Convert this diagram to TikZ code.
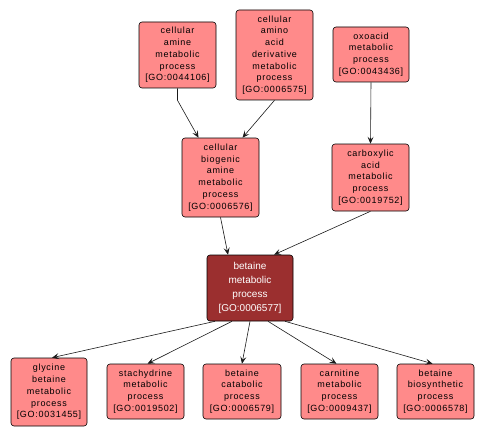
\documentclass[tikz,border=0pt]{standalone}
\usepackage{fontspec}
\usepackage{tikz}
\usetikzlibrary{arrows.meta, positioning, calc}
\newfontfamily\gofont[LetterSpace=8]{Liberation Sans}
\newfontfamily\focusfont{Liberation Sans}
\definecolor{termfill}{HTML}{FF8A8A}
\definecolor{focusfill}{HTML}{9B2F2F}
\definecolor{edge}{HTML}{1A1A1A}

\begin{document}
\begin{tikzpicture}[
  x=1pt, y=-1pt,
  term/.style={draw=black, semithick, rounded corners=3pt, fill=termfill,
               minimum width=77pt, inner sep=1pt, align=center,
               font=\gofont\fontsize{9}{11.7}\selectfont},
  focus/.style={term, fill=focusfill, text=white, minimum width=86pt,
                font=\focusfont\fontsize{10}{14}\selectfont},
  arr/.style={-{Stealth[length=7pt, width=6pt, inset=3pt]}, edge, semithick}
]
  \useasboundingbox (0,0) rectangle (485,436);

  % upper levels
  \node[term, minimum height=66pt] (amine) at (177.5,55) {cellular\\amine\\metabolic\\process\\{[GO:0044106]}};
  \node[term, minimum height=90pt] (aminoacid) at (274.5,55) {cellular\\amino\\acid\\derivative\\metabolic\\process\\{[GO:0006575]}};
  \node[term, minimum height=55pt, minimum width=76pt] (oxoacid) at (371,54.5) {oxoacid\\metabolic\\process\\{[GO:0043436]}};
  \node[term, minimum height=79pt] (biogenic) at (220.5,177.5) {cellular\\biogenic\\amine\\metabolic\\process\\{[GO:0006576]}};
  \node[term, minimum height=67pt] (carboxylic) at (370.5,177.5) {carboxylic\\acid\\metabolic\\process\\{[GO:0019752]}};

  % focus term
  \node[focus, minimum height=66pt] (betaine) at (250,288) {betaine\\metabolic\\process\\{[GO:0006577]}};

  % children
  \node[term, minimum height=68pt, minimum width=76pt] (glycine) at (49,392) {glycine\\betaine\\metabolic\\process\\{[GO:0031455]}};
  \node[term, minimum height=55pt] (stachydrine) at (145.5,391.5) {stachydrine\\metabolic\\process\\{[GO:0019502]}};
  \node[term, minimum height=55pt, minimum width=78pt] (catabolic) at (242,391.5) {betaine\\catabolic\\process\\{[GO:0006579]}};
  \node[term, minimum height=55pt] (carnitine) at (339.5,391.5) {carnitine\\metabolic\\process\\{[GO:0009437]}};
  \node[term, minimum height=55pt] (biosynthetic) at (435.5,391.5) {betaine\\biosynthetic\\process\\{[GO:0006578]}};

  \draw[arr] (amine.south) -- ++(0,12) -- ([xshift=-22pt]biogenic.north);
  \draw[arr] (aminoacid.south) -- ([xshift=22pt]biogenic.north);
  \draw[arr] (oxoacid.south) -- (carboxylic.north);
  \draw[arr] (biogenic.south) -- ([xshift=-22pt]betaine.north);
  \draw[arr] (carboxylic.south) -- ([xshift=24pt]betaine.north);

  \draw[arr] ([xshift=-35pt]betaine.south) -- ([xshift=3pt]glycine.north);
  \draw[arr] ([xshift=-18pt]betaine.south) -- ([xshift=2pt]stachydrine.north);
  \draw[arr] (betaine.south) -- (catabolic.north);
  \draw[arr] ([xshift=18pt]betaine.south) -- ([xshift=-3pt]carnitine.north);
  \draw[arr] ([xshift=35pt]betaine.south) -- ([xshift=-3pt]biosynthetic.north);
\end{tikzpicture}
\end{document}
